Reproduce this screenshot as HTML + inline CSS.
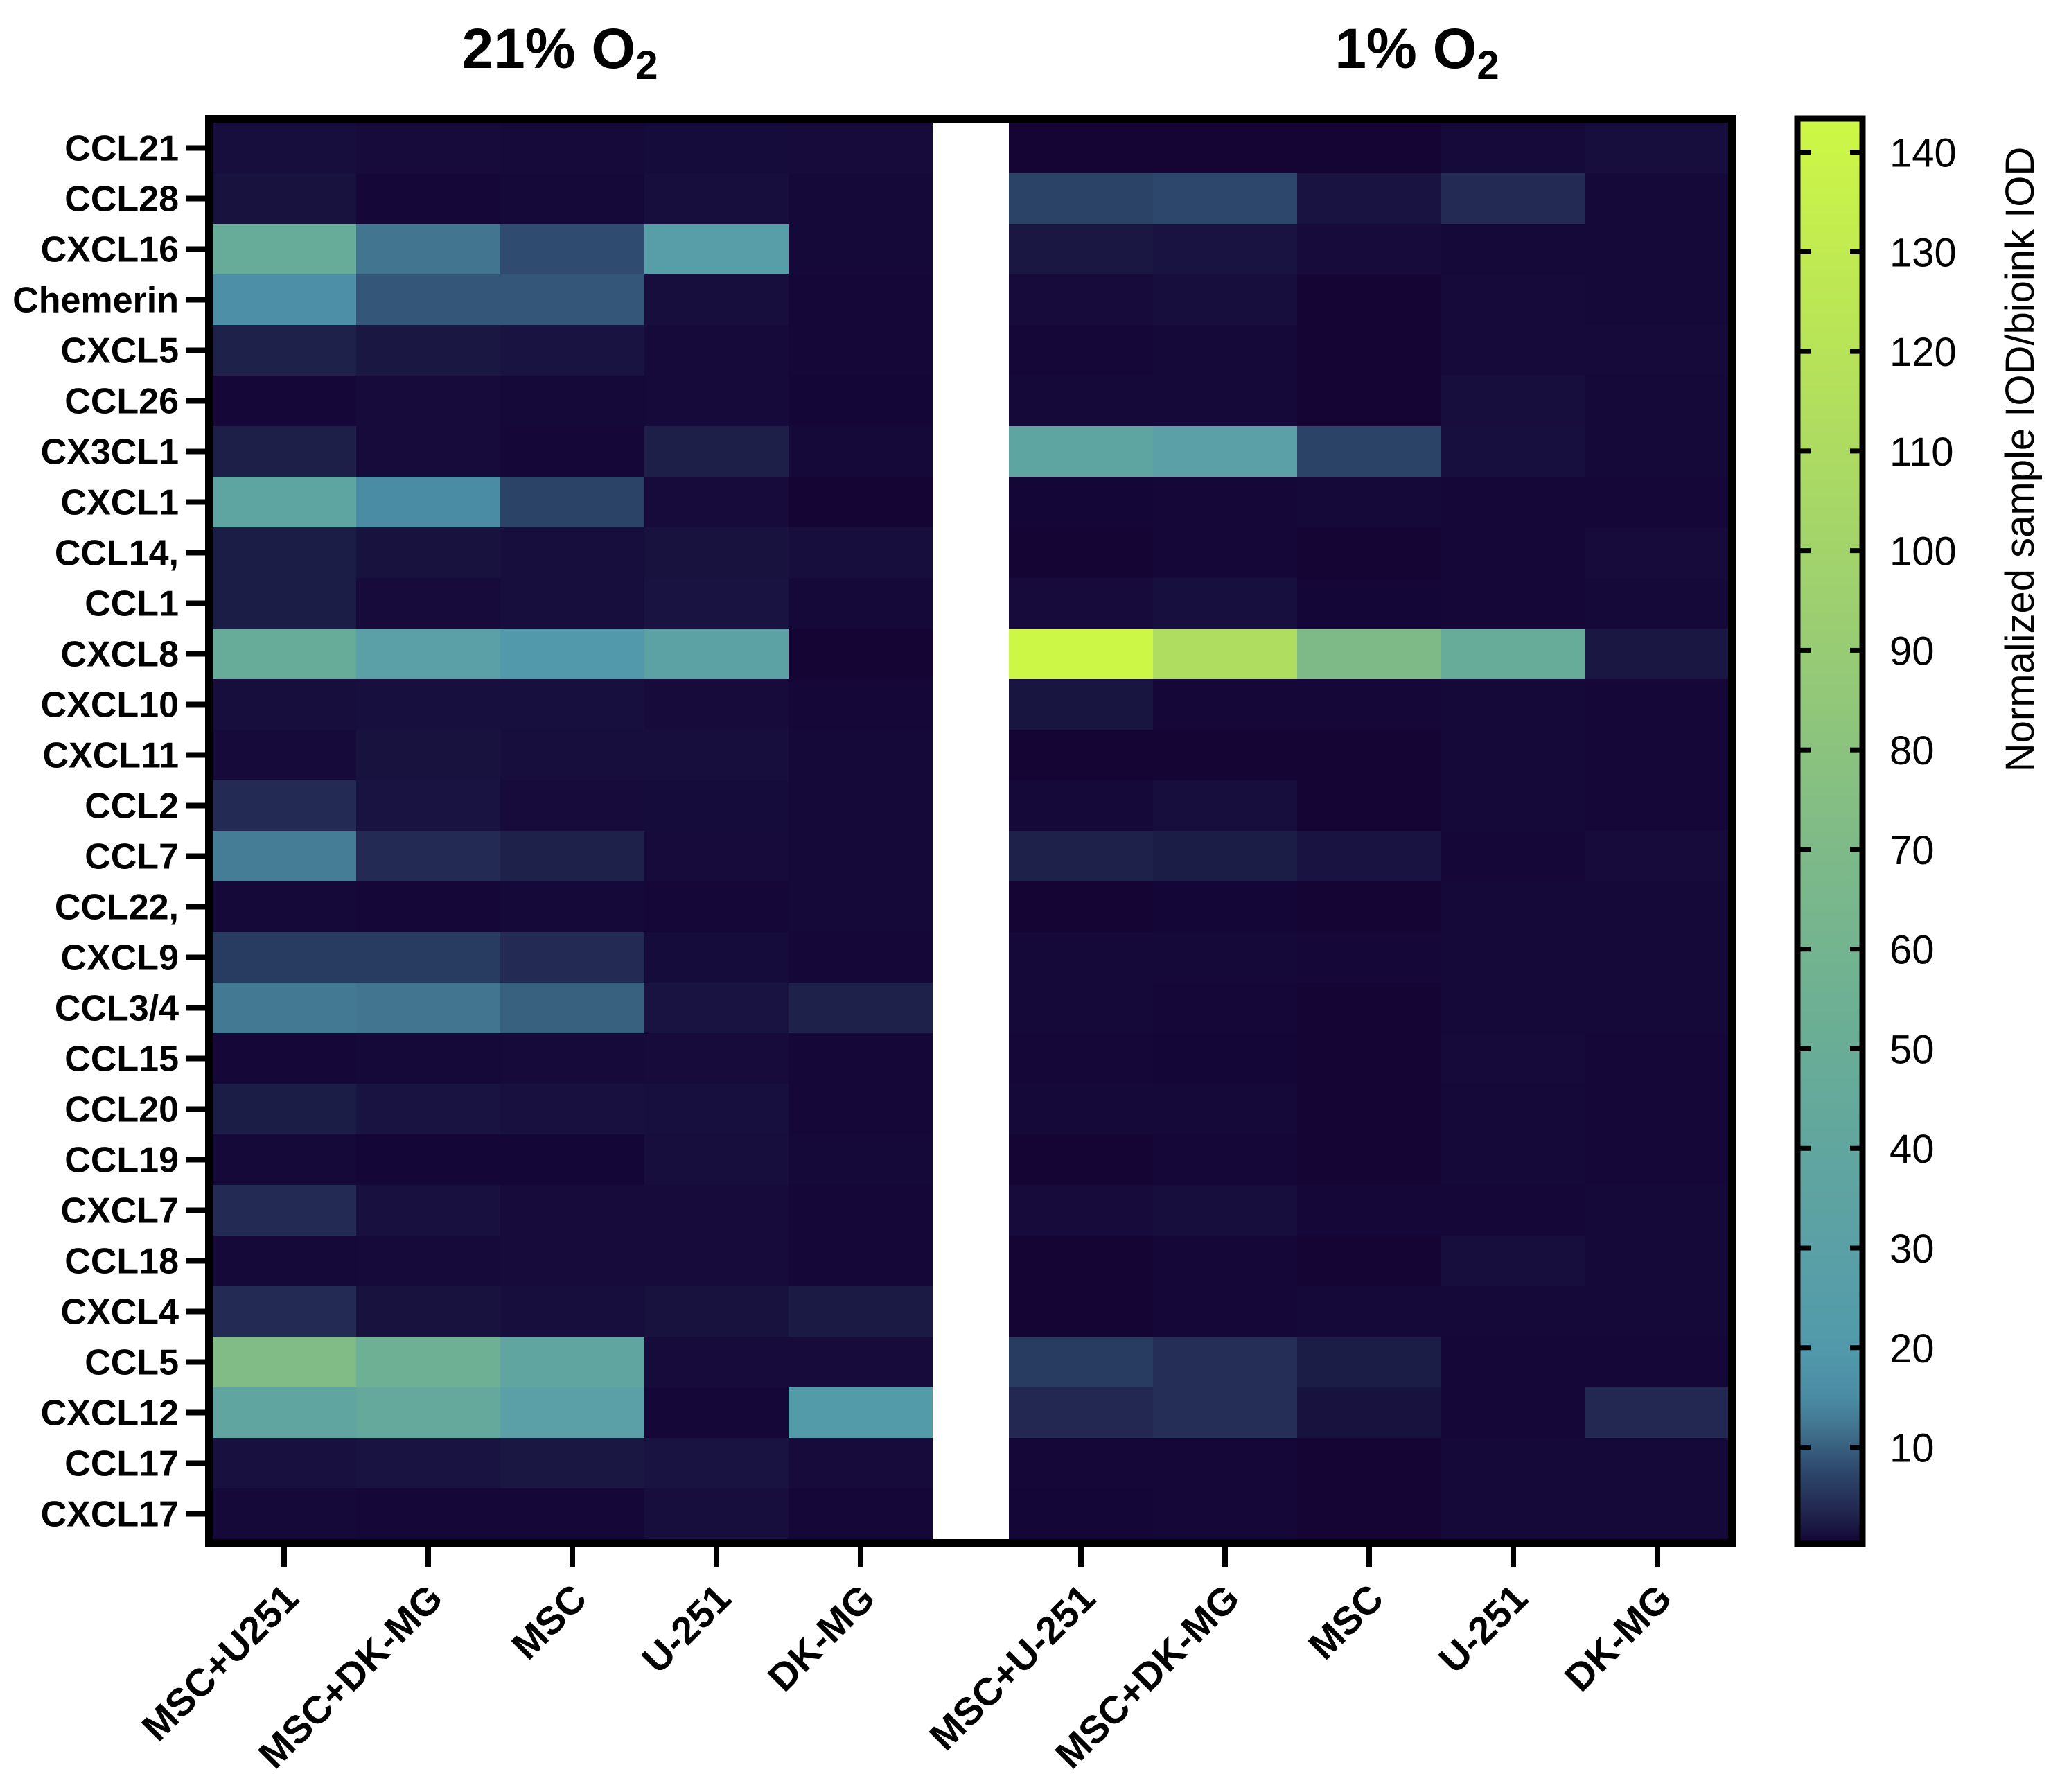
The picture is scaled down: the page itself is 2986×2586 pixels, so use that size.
<!DOCTYPE html>
<html><head><meta charset="utf-8"><style>
html,body{margin:0;padding:0;background:#fff;}
svg{display:block;font-family:"Liberation Sans",Arial,sans-serif;}
</style></head><body>
<svg id="chart" width="2986" height="2586" viewBox="0 0 2986 2586" xmlns="http://www.w3.org/2000/svg">
<defs><linearGradient id="cbgrad" x1="0" y1="1" x2="0" y2="0"></linearGradient></defs>
<g id="cells"></g>
<rect x="1346" y="177" width="110" height="2044" fill="#fff"/>
<rect x="301.5" y="171.5" width="2198" height="2055" fill="none" stroke="#000" stroke-width="11"/>
<g id="yaxis"></g>
<g id="xaxis"></g>
<text x="808" y="98" text-anchor="middle" font-size="82" font-weight="bold">21% O<tspan font-size="58" dy="16">2</tspan></text>
<text x="2045" y="98" text-anchor="middle" font-size="82" font-weight="bold">1% O<tspan font-size="58" dy="16">2</tspan></text>
<g id="colorbar"></g>
<text transform="translate(2935,663) rotate(-90)" text-anchor="middle" font-size="58">Normalized sample IOD/bioink IOD</text>
</svg>
<script>
const rowLabels = ["CCL21","CCL28","CXCL16","Chemerin","CXCL5","CCL26","CX3CL1","CXCL1","CCL14,","CCL1","CXCL8","CXCL10","CXCL11","CCL2","CCL7","CCL22,","CXCL9","CCL3/4","CCL15","CCL20","CCL19","CXCL7","CCL18","CXCL4","CCL5","CXCL12","CCL17","CXCL17"];
const colLabelsLeft = ["MSC+U251","MSC+DK-MG","MSC","U-251","DK-MG"];
const colLabelsRight = ["MSC+U-251","MSC+DK-MG","MSC","U-251","DK-MG"];
const valuesNormoxia = [
[1.2,1,0.9,1.1,1],[1.5,0.5,0.8,1.2,0.7],[48,12,8,26,0.8],[16,9,9,1.2,0.6],[3,2,1.6,0.9,0.6],
[0.6,1,0.8,0.9,0.4],[2.8,1,0.5,2.8,0.7],[36,15,7,1,0.3],[2.5,1.5,1.2,1.5,1.2],[2.5,1,1.2,1.6,0.8],
[48,30,20,33,0.3],[1.2,1.3,1.3,1,0.6],[0.9,1.5,1.2,1.2,0.8],[4,1.6,1,1.1,0.7],[13,4,3,1,0.7],
[0.7,0.5,0.7,0.6,0.7],[6,6,4,1.1,0.6],[12.5,12,10,1.6,3],[0.6,0.8,0.9,1,0.6],[2.6,1.6,1.4,1.3,0.6],
[0.7,0.4,0.4,1.2,0.8],[4,1.4,1,1,0.6],[0.8,0.9,1,1,0.6],[4,1.5,1.2,1.5,2.2],[72,55,38,1,1],
[38,44,30,0.5,22],[1.4,1.6,2,1.6,1],[0.8,0.6,0.5,1.2,0.6]];
const valuesHypoxia = [
[0.2,0.3,0.2,0.9,1.2],[7,7.5,1.6,4,0.7],[2,1.6,1,0.7,0.7],[1,1.2,0.2,0.9,0.7],[0.6,0.7,0.2,0.9,0.9],
[0.7,0.7,0.2,1.2,0.7],[36,30,7,1.3,0.7],[0.4,0.6,0.7,0.6,0.6],[0.3,0.5,0.3,0.6,1],[1,1.3,0.4,0.6,0.8],
[142,112,70,48,2],[1.8,0.6,0.5,0.8,0.6],[0.2,0.3,0.2,0.8,0.6],[0.8,1.2,0.3,0.8,0.6],[3,2.5,1.6,0.6,1],
[0.2,0.4,0.3,0.8,0.8],[0.7,0.8,0.6,0.8,0.8],[0.7,0.6,0.3,0.8,0.7],[0.5,0.4,0.3,0.9,0.6],[0.7,0.7,0.3,0.7,0.6],
[0.2,0.6,0.3,0.7,0.6],[1,1.2,0.6,0.5,0.7],[0.3,0.6,0.2,1.2,0.7],[0.3,0.5,0.8,0.8,0.7],[6,4.5,2.5,0.6,0.6],
[3.8,4.5,1.5,0.5,3.8],[0.5,0.5,0.3,0.8,0.7],[0.4,0.6,0.3,0.8,0.7]];
const colorTicks = [10,20,30,40,50,60,70,80,90,100,110,120,130,140];
const cmapValues = [0,1,2,3,4,6,8,10,12,15,20,30,40,50,70,90,110,130,143];
const cmapColors = ["#130333","#160b3b","#1a1843","#1e2149","#232a53","#283b60","#2f4b70","#38607f","#42758f","#4b8ca5","#529aab","#5aa0a6","#61a69e","#69ad97","#7eba88","#98cc74","#addb62","#c1eb50","#cef845"];

const NS="http://www.w3.org/2000/svg";
const top0=177, rowH=(2221-177)/28, colW=208, leftX0=306, rightX0=1456;
const cbTop=175, cbBot=2228, vMin=0.3, vMax=143.1;
function yRow(i){return top0+i*rowH;}
function xCol(panel,j){return (panel===0?leftX0:rightX0)+j*colW;}
function cbY(v){return cbBot-(v-vMin)/(vMax-vMin)*(cbBot-cbTop);}
function hex(h){return [1,3,5].map(k=>parseInt(h.substr(k,2),16));}
function color(v){
  if(v<=cmapValues[0])return cmapColors[0];
  for(let k=1;k<cmapValues.length;k++){
    if(v<=cmapValues[k]){
      const t=(v-cmapValues[k-1])/(cmapValues[k]-cmapValues[k-1]);
      const a=hex(cmapColors[k-1]),b=hex(cmapColors[k]);
      return "rgb("+a.map((c,i)=>Math.round(c+(b[i]-c)*t)).join(",")+")";
    }
  }
  return cmapColors[cmapColors.length-1];
}
function mk(tag,attrs,parent){const e=document.createElementNS(NS,tag);for(const k in attrs)e.setAttribute(k,attrs[k]);parent.appendChild(e);return e;}

const cells=document.getElementById('cells');
[valuesNormoxia,valuesHypoxia].forEach((data,p)=>{
  data.forEach((row,i)=>row.forEach((v,j)=>{
    const r=mk('rect',{x:xCol(p,j),y:yRow(i),width:colW+0.6,height:rowH+0.6,fill:color(v)},cells);
    
    
  }));
});

const ya=document.getElementById('yaxis');
rowLabels.forEach((lab,i)=>{
  const cy=yRow(i)+rowH/2;
  const t=mk('rect',{x:268,y:cy-4,width:30,height:8,fill:'#000'},ya);
  
  
  const tx=mk('text',{x:258,y:cy+18,'text-anchor':'end','font-size':52,'font-weight':'bold'},ya);
  tx.textContent=lab;
  
  
});

const xa=document.getElementById('xaxis');
[colLabelsLeft,colLabelsRight].forEach((labs,p)=>{
  labs.forEach((lab,j)=>{
    const cx=xCol(p,j)+colW/2;
    const t=mk('rect',{x:cx-4,y:2230,width:8,height:31,fill:'#000'},xa);
    
    
    const tx=mk('text',{transform:'translate('+(cx+24)+',2310) rotate(-45)','text-anchor':'end','font-size':56,'font-weight':'bold'},xa);
    tx.textContent=lab;
    
    
  });
});

const grad=document.getElementById('cbgrad');
cmapValues.forEach((v,k)=>{
  const off=Math.max(0,Math.min(1,(v-vMin)/(vMax-vMin)));
  mk('stop',{offset:off,'stop-color':cmapColors[k]},grad);
});
const cb=document.getElementById('colorbar');
const cr=mk('rect',{x:2594,y:171,width:94,height:2057,fill:'url(#cbgrad)',stroke:'#000','stroke-width':9},cb);


colorTicks.forEach(v=>{
  const y=cbY(v);
  const a=mk('rect',{x:2598,y:y-3.5,width:15,height:7,fill:'#000'},cb);
  
  
  const b=mk('rect',{x:2670,y:y-3.5,width:15,height:7,fill:'#000'},cb);
  
  
  const tx=mk('text',{x:2727,y:y+21,'font-size':58},cb);
  tx.textContent=String(v);
  
  
});
</script>
</body></html>
